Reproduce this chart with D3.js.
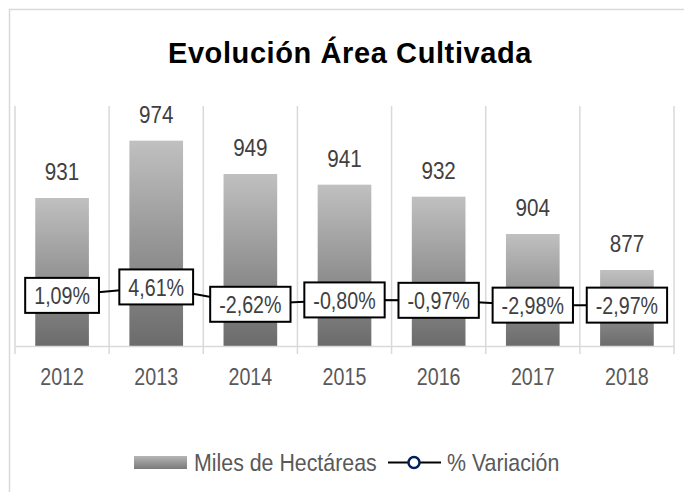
<!DOCTYPE html>
<html>
<head>
<meta charset="utf-8">
<script src="https://cdn.jsdelivr.net/npm/d3@7"></script>
<style>
  body { margin: 0; background: #fff; }
  svg { display: block; }
  text { font-family: "Liberation Sans", Arial, sans-serif; }
</style>
</head>
<body>
<svg class="chart"></svg>
<script>
var anos = ["2012", "2013", "2014", "2015", "2016", "2017", "2018"];
var hectareas = [931, 974, 949, 941, 932, 904, 877];
var variacion = [1.09, 4.61, -2.62, -0.80, -0.97, -2.98, -2.97];
var titulo = "Evolución Área Cultivada";
var serieBarras = "Miles de Hectáreas";
var serieLinea = "% Variación";

var W = 684, H = 492;
var margin = {top: 106, right: 10, bottom: 146, left: 15};
var width = 674 - margin.left;
var height = 346 - margin.top;

//narrow look: no condensed font installed, so squeeze horizontally
var squeeze = function(sel, sx){
	sel.each(function(){
		var t = d3.select(this);
		var x = +t.attr("x") || 0, y = +t.attr("y") || 0;
		t.attr("x", 0).attr("y", 0)
			.attr("transform", "translate(" + x + "," + y + ") scale(" + sx + ",1)");
	});
};

var svg = d3.select(".chart")
	.attr("width", W)
	.attr("height", H);

//gradients for bars and legend swatch
var defs = svg.append("defs");
var grad = defs.append("linearGradient")
	.attr("id", "gradBar")
	.attr("x1", 0).attr("y1", 0).attr("x2", 0).attr("y2", 1);
grad.append("stop").attr("offset", "0%").attr("stop-color", "#c0c0c0");
grad.append("stop").attr("offset", "100%").attr("stop-color", "#6b6b6b");

var gradLeg = defs.append("linearGradient")
	.attr("id", "gradLeg")
	.attr("x1", 0).attr("y1", 0).attr("x2", 0).attr("y2", 1);
gradLeg.append("stop").attr("offset", "0%").attr("stop-color", "#b5b5b5");
gradLeg.append("stop").attr("offset", "100%").attr("stop-color", "#7a7a7a");

//outer border (cut off on the right and bottom like the picture)
svg.append("rect")
	.attr("x", 9.5).attr("y", 9.5)
	.attr("width", 700).attr("height", 500)
	.attr("fill", "none")
	.attr("stroke", "#d9d9d9")
	.attr("stroke-width", 1.5);

//title
svg.append("text")
	.attr("x", 350)
	.attr("y", 63)
	.attr("text-anchor", "middle")
	.style("font-weight", "bold")
	.style("font-size", "29px")
	.style("letter-spacing", "0.6px")
	.attr("fill", "#000")
	.text(titulo);

var chart = svg.append("g")
	.attr("transform", "translate(" + margin.left + "," + margin.top + ")");

var xChart = d3.scaleBand()
	.domain(anos)
	.range([0, width])
	.paddingInner(0.43)
	.paddingOuter(0.215);

var yChart = d3.scaleLinear()
	.domain([820, 1000])
	.range([height, 0]);

var yPct = d3.scaleLinear()
	.domain([-20, 80])
	.range([height, 0]);

var step = xChart.step();

//vertical gridlines between categories
chart.selectAll(".grid")
	.data(d3.range(anos.length + 1))
	.enter()
	.append("line")
	.attr("class", "grid")
	.attr("x1", function(i){ return i * step; })
	.attr("x2", function(i){ return i * step; })
	.attr("y1", 0)
	.attr("y2", height + 8)
	.attr("stroke", "#d9d9d9")
	.attr("stroke-width", 1.5);

//bars
chart.selectAll(".bar")
	.data(anos)
	.enter()
	.append("rect")
	.attr("class", "bar")
	.attr("x", function(d){ return xChart(d); })
	.attr("y", function(d, i){ return yChart(hectareas[i]); })
	.attr("width", xChart.bandwidth())
	.attr("height", function(d, i){ return height - yChart(hectareas[i]); })
	.attr("fill", "url(#gradBar)");

//bottom axis
var xAxis = d3.axisBottom(xChart).tickSize(0).tickPadding(21);
var gx = chart.append("g")
	.attr("transform", "translate(0," + (height + 0.5) + ")")
	.call(xAxis);
gx.select(".domain")
	.attr("d", "M0,0H" + width)
	.attr("stroke", "#d9d9d9")
	.attr("stroke-width", 1.5);
gx.selectAll("text")
	.attr("fill", "#595959")
	.style("font-size", "24px")
	.style("font-family", "'Liberation Sans', Arial, sans-serif");
squeeze(gx.selectAll("text"), 0.82);

//bar value labels
var lbl = chart.selectAll(".lbl")
	.data(anos)
	.enter()
	.append("text")
	.attr("class", "lbl")
	.attr("x", function(d){ return xChart(d) + xChart.bandwidth() / 2; })
	.attr("y", function(d, i){ return yChart(hectareas[i]) - 18; })
	.attr("text-anchor", "middle")
	.attr("fill", "#404040")
	.style("font-size", "24px")
	.text(function(d, i){ return hectareas[i]; });
squeeze(lbl, 0.86);

//variation line
var linea = d3.line()
	.x(function(d, i){ return xChart(anos[i]) + xChart.bandwidth() / 2; })
	.y(function(d){ return yPct(d); });

chart.append("path")
	.datum(variacion)
	.attr("d", linea)
	.attr("fill", "none")
	.attr("stroke", "#000")
	.attr("stroke-width", 2);

//boxed percentage labels
var fmt = function(v){ return v.toFixed(2).replace(".", ",") + "%"; };
var etiquetas = chart.selectAll(".pct")
	.data(variacion)
	.enter()
	.append("g")
	.attr("class", "pct")
	.attr("transform", function(d, i){
		return "translate(" + (xChart(anos[i]) + xChart.bandwidth() / 2) + "," + yPct(d) + ")";
	});

etiquetas.append("rect").attr("class", "caja");
etiquetas.append("text")
	.attr("text-anchor", "middle")
	.attr("dy", "0.36em")
	.attr("fill", "#404040")
	.attr("transform", "scale(0.82,1)")
	.style("font-size", "24px")
	.text(fmt);

etiquetas.each(function(){
	var g = d3.select(this);
	var bb = g.select("text").node().getBBox();
	var w = bb.width * 0.82 + 18;
	g.select("rect")
		.attr("x", -w / 2)
		.attr("y", -17.5)
		.attr("width", w)
		.attr("height", 35)
		.attr("fill", "#fff")
		.attr("stroke", "#000")
		.attr("stroke-width", 2);
});

//legend
var leg = svg.append("g");
leg.append("rect")
	.attr("x", 134).attr("y", 456)
	.attr("width", 53).attr("height", 13)
	.attr("fill", "url(#gradLeg)");
var lt1 = leg.append("text")
	.attr("x", 194).attr("y", 470.5)
	.attr("fill", "#595959")
	.style("font-size", "24px")
	.text(serieBarras);
squeeze(lt1, 0.89);
leg.append("line")
	.attr("x1", 388).attr("x2", 441)
	.attr("y1", 462.5).attr("y2", 462.5)
	.attr("stroke", "#000")
	.attr("stroke-width", 2);
leg.append("circle")
	.attr("cx", 414).attr("cy", 462.5)
	.attr("r", 5.5)
	.attr("fill", "#fff")
	.attr("stroke", "#002060")
	.attr("stroke-width", 2.5);
var lt2 = leg.append("text")
	.attr("x", 447).attr("y", 470.5)
	.attr("fill", "#595959")
	.style("font-size", "24px")
	.text(serieLinea);
squeeze(lt2, 0.89);
</script>
</body>
</html>
